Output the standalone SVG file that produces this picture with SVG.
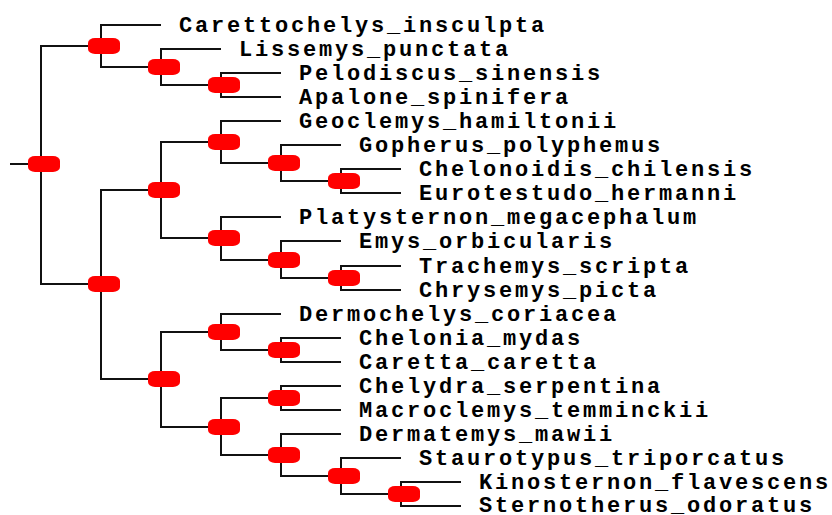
<svg xmlns="http://www.w3.org/2000/svg" width="832" height="515" viewBox="0 0 832 515">
<style>
.e{fill:none;stroke:#111;stroke-width:2;shape-rendering:crispEdges}
.b{fill:#ff0000}
.t{font-family:"Liberation Mono","Courier New",monospace;font-weight:bold;font-size:22px;letter-spacing:2.8px;fill:#000}
</style>
<defs>
<rect id="blob" x="-13" y="-8" width="32" height="16" rx="7" ry="5"/>
</defs>
<rect width="832" height="515" fill="#fff"/>
<g id="connectors">
<path class="e" d="M10 164H41"/>
<path class="e" d="M101 46H41V284H101"/>
<path class="e" d="M161 25H101V67H161"/>
<path class="e" d="M221 49H161V85H221"/>
<path class="e" d="M281 73H221V97H281"/>
<path class="e" d="M161 190H101V379H161"/>
<path class="e" d="M221 142H161V238H221"/>
<path class="e" d="M281 121H221V163H281"/>
<path class="e" d="M341 145H281V181H341"/>
<path class="e" d="M401 169H341V193H401"/>
<path class="e" d="M281 217H221V260H281"/>
<path class="e" d="M341 241H281V278H341"/>
<path class="e" d="M401 266H341V290H401"/>
<path class="e" d="M221 332H161V427H221"/>
<path class="e" d="M281 314H221V350H281"/>
<path class="e" d="M341 338H281V362H341"/>
<path class="e" d="M281 398H221V455H281"/>
<path class="e" d="M341 386H281V410H341"/>
<path class="e" d="M341 434H281V476H341"/>
<path class="e" d="M401 458H341V494H401"/>
<path class="e" d="M461 482H401V506H461"/>
</g>
<g id="n_root"><use href="#blob" class="b" x="41" y="164"/></g>
<g id="n_A"><use href="#blob" class="b" x="101" y="46"/></g>
<g id="n_A2"><use href="#blob" class="b" x="161" y="67"/></g>
<g id="n_A3"><use href="#blob" class="b" x="221" y="85"/></g>
<g id="n_B"><use href="#blob" class="b" x="101" y="284"/></g>
<g id="n_C"><use href="#blob" class="b" x="161" y="190"/></g>
<g id="n_C1"><use href="#blob" class="b" x="221" y="142"/></g>
<g id="n_C11"><use href="#blob" class="b" x="281" y="163"/></g>
<g id="n_C12"><use href="#blob" class="b" x="341" y="181"/></g>
<g id="n_C2"><use href="#blob" class="b" x="221" y="238"/></g>
<g id="n_C21"><use href="#blob" class="b" x="281" y="260"/></g>
<g id="n_C22"><use href="#blob" class="b" x="341" y="278"/></g>
<g id="n_D"><use href="#blob" class="b" x="161" y="379"/></g>
<g id="n_D1"><use href="#blob" class="b" x="221" y="332"/></g>
<g id="n_D11"><use href="#blob" class="b" x="281" y="350"/></g>
<g id="n_D2"><use href="#blob" class="b" x="221" y="427"/></g>
<g id="n_D21"><use href="#blob" class="b" x="281" y="398"/></g>
<g id="n_D22"><use href="#blob" class="b" x="281" y="455"/></g>
<g id="n_D23"><use href="#blob" class="b" x="341" y="476"/></g>
<g id="n_D24"><use href="#blob" class="b" x="401" y="494"/></g>
<g id="leaf_Carettochelys"><text class="t" x="179" y="32">Carettochelys_insculpta</text></g>
<g id="leaf_Lissemys"><text class="t" x="239" y="56">Lissemys_punctata</text></g>
<g id="leaf_Pelodiscus"><text class="t" x="299" y="80">Pelodiscus_sinensis</text></g>
<g id="leaf_Apalone"><text class="t" x="299" y="104">Apalone_spinifera</text></g>
<g id="leaf_Geoclemys"><text class="t" x="299" y="128">Geoclemys_hamiltonii</text></g>
<g id="leaf_Gopherus"><text class="t" x="359" y="152">Gopherus_polyphemus</text></g>
<g id="leaf_Chelonoidis"><text class="t" x="419" y="176">Chelonoidis_chilensis</text></g>
<g id="leaf_Eurotestudo"><text class="t" x="419" y="200">Eurotestudo_hermanni</text></g>
<g id="leaf_Platysternon"><text class="t" x="299" y="224">Platysternon_megacephalum</text></g>
<g id="leaf_Emys"><text class="t" x="359" y="248">Emys_orbicularis</text></g>
<g id="leaf_Trachemys"><text class="t" x="419" y="273">Trachemys_scripta</text></g>
<g id="leaf_Chrysemys"><text class="t" x="419" y="297">Chrysemys_picta</text></g>
<g id="leaf_Dermochelys"><text class="t" x="299" y="321">Dermochelys_coriacea</text></g>
<g id="leaf_Chelonia"><text class="t" x="359" y="345">Chelonia_mydas</text></g>
<g id="leaf_Caretta"><text class="t" x="359" y="369">Caretta_caretta</text></g>
<g id="leaf_Chelydra"><text class="t" x="359" y="393">Chelydra_serpentina</text></g>
<g id="leaf_Macroclemys"><text class="t" x="359" y="417">Macroclemys_temminckii</text></g>
<g id="leaf_Dermatemys"><text class="t" x="359" y="441">Dermatemys_mawii</text></g>
<g id="leaf_Staurotypus"><text class="t" x="419" y="465">Staurotypus_triporcatus</text></g>
<g id="leaf_Kinosternon"><text class="t" x="479" y="489">Kinosternon_flavescens</text></g>
<g id="leaf_Sternotherus"><text class="t" x="479" y="512">Sternotherus_odoratus</text></g>
</svg>
